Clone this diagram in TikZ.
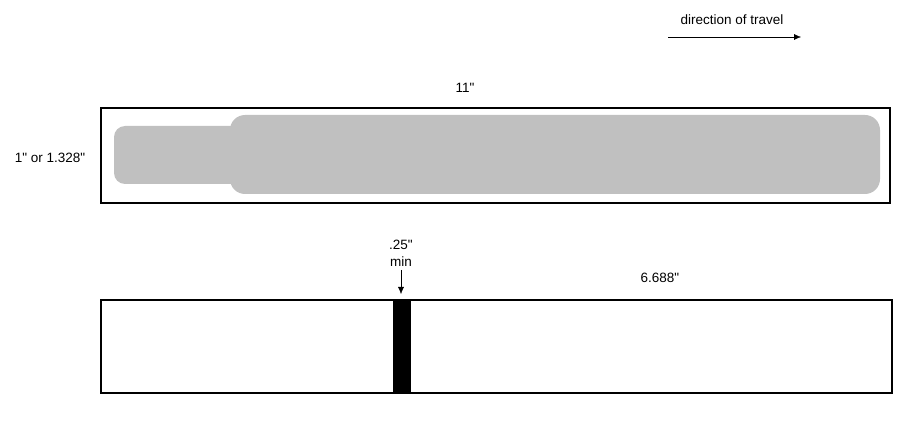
\documentclass[tikz,border=0pt]{standalone}
\usepackage{fontspec}
\setmainfont{Liberation Sans}
\usetikzlibrary{arrows.meta}
\definecolor{tabgrey}{RGB}{192,192,192}
\newcommand{\inchmark}{\textquotedbl}

\begin{document}
\begin{tikzpicture}[x=1pt,y=-1pt,font=\fontsize{13.5}{15}\selectfont]
\useasboundingbox (0,0) rectangle (900,422);
\node[inner sep=0pt] (1) at (732,20) {direction of travel};
\coordinate (2) at (668,37);
\coordinate (3) at (801,37);
\node[inner sep=0pt] (4) at (465,88) {11\inchmark};
\node[inner sep=0pt] (5) at (50,158) {1\inchmark{} or 1.328\inchmark};
\node[inner sep=0pt] (6) at (401,245) {.25\inchmark};
\node[inner sep=0pt] (7) at (401,262) {min};
\coordinate (8) at (401,270);
\coordinate (9) at (401,294);
\node[inner sep=0pt] (10) at (660,278) {6.688\inchmark};

\fill[tabgrey, rounded corners=11pt] (114,126) rectangle (245,184);
\fill[tabgrey, rounded corners=15pt] (230,115) rectangle (880,194);
\draw[line width=2pt] (101,108) rectangle (890,203);

\fill[black] (393,300) rectangle (411,393);
\draw[line width=2pt] (101,300) rectangle (892,393);

\draw[-{Latex[length=7pt,width=6pt]}] (2) -- (3);
\draw[-{Latex[length=7pt,width=6pt]}] (8) -- (9);
\end{tikzpicture}
\end{document}
